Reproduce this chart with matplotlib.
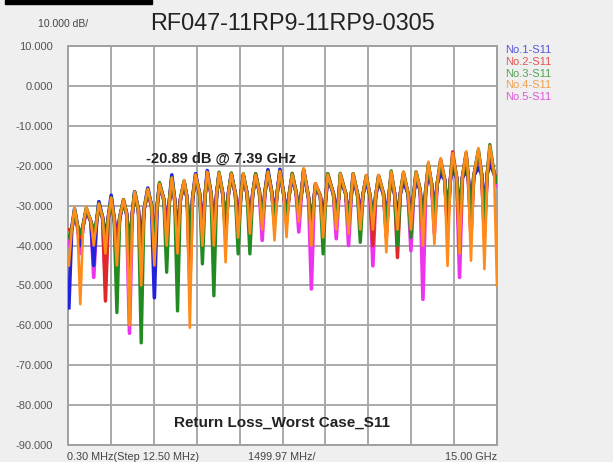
import numpy as np
import matplotlib
matplotlib.use("Agg")
import matplotlib.pyplot as plt
from matplotlib.patches import Rectangle

plt.rcParams['font.family'] = ['Liberation Sans', 'DejaVu Sans']

# frequencies (GHz) of the nulls and of the lobe peaks
null_ghz = [0.03, 0.43, 0.90, 1.31, 1.71, 2.15, 2.56, 3.02, 3.45, 3.83, 4.26, 4.70,
            5.10, 5.51, 5.95, 6.36, 6.79, 7.22, 7.64, 8.07, 8.51, 8.92, 9.38, 9.81,
            10.22, 10.66, 11.13, 11.52, 11.99, 12.41, 12.81, 13.27, 13.69, 14.09, 14.56, 15.00]
peak_ghz = [0.23, 0.64, 1.08, 1.51, 1.94, 2.33, 2.79, 3.20, 3.63, 4.06, 4.46, 4.87,
            5.28, 5.71, 6.13, 6.56, 6.99, 7.41, 7.84, 8.24, 8.65, 9.08, 9.52, 9.97,
            10.43, 10.86, 11.30, 11.73, 12.17, 12.60, 13.03, 13.45, 13.92, 14.35, 14.75]

# level (dB) where the lobes of all traces meet before each null dips
shoulder_db = [-36, -35, -34, -33, -33, -32, -31, -30, -28.5, -28.5, -28, -27,
               -27, -27, -27, -27, -26.5, -26.5, -27, -26.5, -28, -27.5, -27, -27,
               -27, -27.5, -27, -27, -27, -26, -24.5, -23.5, -23, -22.5, -22, -22]

# S11 (dB) at the peaks
s11_peak_1 = [-30.8, -31.0, -29.0, -27.4, -29.0, -26.5, -25.6, -24.5, -22.3, -24.2,
              -22.0, -21.2, -22.3, -22.0, -22.4, -22.5, -21.0, -20.9, -22.8, -21.3,
              -25.5, -23.0, -23.3, -23.5, -23.8, -24.0, -23.5, -24.0, -23.8, -22.5,
              -22.0, -20.8, -21.5, -20.5, -19.5]
s11_peak_2 = [-31.5, -31.0, -30.0, -28.5, -28.5, -27.0, -26.5, -24.8, -23.5, -24.0,
              -22.8, -21.8, -22.0, -22.5, -22.5, -22.0, -21.8, -21.5, -22.0, -21.0,
              -24.5, -22.0, -22.2, -22.0, -22.5, -22.5, -21.8, -22.0, -21.8, -19.8,
              -18.5, -16.5, -16.8, -16.5, -16.0]
s11_peak_3 = [-31.0, -30.5, -29.5, -28.0, -28.5, -26.5, -26.0, -24.2, -23.0, -23.8,
              -22.5, -21.8, -21.6, -21.8, -22.0, -22.0, -21.5, -21.5, -21.9, -21.0,
              -24.8, -22.0, -21.9, -22.0, -22.5, -22.5, -21.3, -21.6, -21.5, -19.5,
              -18.8, -17.5, -17.0, -16.0, -14.7]
s11_peak_4 = [-30.5, -30.3, -29.5, -28.0, -28.5, -26.5, -25.8, -24.5, -23.0, -23.6,
              -22.2, -21.5, -21.8, -22.0, -22.0, -22.3, -21.5, -21.3, -22.2, -20.6,
              -24.4, -22.2, -22.0, -22.0, -22.3, -22.3, -21.5, -21.5, -21.5, -19.0,
              -18.1, -16.8, -16.4, -15.6, -15.0]
s11_peak_5 = [-32.0, -31.5, -30.5, -29.0, -29.0, -27.5, -27.0, -25.0, -24.0, -24.5,
              -23.0, -22.5, -22.5, -22.5, -22.8, -22.8, -22.0, -22.0, -22.5, -21.5,
              -25.0, -22.5, -22.5, -22.5, -23.0, -23.0, -22.5, -22.5, -22.0, -20.5,
              -19.5, -18.0, -17.5, -17.0, -16.5]

# S11 (dB) at the nulls
s11_null_1 = [-55.6, -40, -45, -38, -38, -40, -40, -53.1, -35, -37, -38, -35,
              -35, -34, -34, -33, -33, -32, -32, -31, -34, -33, -32, -33,
              -32, -33, -33, -33, -33, -33, -31, -32, -32, -31, -31, -24]
s11_null_2 = [-36, -38, -38, -53.9, -40, -42, -42, -38, -36, -40, -50, -36,
              -37, -35, -35, -35, -34, -33, -34, -32, -36, -35, -34, -34,
              -34, -40, -38, -43, -35, -37, -34, -36, -40, -38, -38, -23]
s11_null_3 = [-38, -37, -36, -40, -56.8, -45, -64.4, -40, -46.7, -56.4, -40, -44.6,
              -52.6, -38, -42.1, -42.1, -34, -35, -33, -32, -37, -42.1, -34, -35,
              -39.2, -34, -35, -40, -38, -35, -33, -34, -34, -33, -33, -24]
s11_null_4 = [-45, -54.7, -40, -42, -45, -60, -50, -45, -40, -42, -60.6, -40,
              -40, -44.2, -38, -37, -36, -38.7, -37.9, -34, -40, -38, -36, -37,
              -36, -36, -41.7, -36, -36, -40, -39.6, -45.1, -42, -43.8, -45.9, -50]
s11_null_5 = [-40, -42, -48, -50, -41, -62, -41, -39, -37, -38, -39, -37,
              -38, -36, -36, -36, -38.7, -34, -33, -36.6, -50.9, -36, -38.3, -40,
              -35, -45.1, -36, -37, -41.3, -53.5, -37, -35, -48, -34, -35, -25]

labels = ['No.1-S11', 'No.2-S11', 'No.3-S11', 'No.4-S11', 'No.5-S11']
colors = ['#2222dd', '#e02828', '#218a21', '#ff8c1a', '#ee33ee']
text_colors = ['#5555dd', '#e05555', '#55a055', '#f0a050', '#e055e0']
widths = [2.6, 2.5, 2.4, 1.9, 2.6]

fmin, fmax = 0.0003, 15.0
dip = 0.1  # half width (GHz) of the dip around each null


def build_trace(nulls, peaks):
    xs, ys = [], []
    for i in range(len(null_ghz)):
        sh = max(shoulder_db[i], nulls[i])
        if i > 0:
            xs.append(null_ghz[i] - dip)
            ys.append(sh)
        xs.append(max(null_ghz[i], fmin))
        ys.append(nulls[i])
        if i < len(peaks):
            xs += [null_ghz[i] + dip, peak_ghz[i]]
            ys += [sh, peaks[i]]
    return xs, ys


traces = [build_trace(s11_null_1, s11_peak_1), build_trace(s11_null_2, s11_peak_2),
          build_trace(s11_null_3, s11_peak_3), build_trace(s11_null_4, s11_peak_4),
          build_trace(s11_null_5, s11_peak_5)]

fig = plt.figure(figsize=(6.13, 4.62), dpi=100, facecolor='#efefef')
ax = fig.add_axes([68 / 613, (462 - 445) / 462, 429 / 613, 399 / 462])
ax.set_facecolor('white')

ax.set_xlim(fmin, fmax)
ax.set_ylim(-90, 10)
ax.set_xticks(np.linspace(fmin, fmax, 11))
ax.set_xticklabels([])
ax.set_yticks(range(-90, 11, 10))
ax.set_yticklabels(['%.3f' % v for v in range(-90, 11, 10)], fontsize=8, color='#555555')
ax.tick_params(length=0, pad=11)
ax.grid(True, color='#a9a9a9', linewidth=1.4)
for s in ax.spines.values():
    s.set_color('#a0a0a0')
    s.set_linewidth(1.4)

# draw order: magenta at the back, orange in front
for z, i in enumerate([4, 0, 1, 2, 3]):
    xs, ys = traces[i]
    ax.plot(xs, ys, color=colors[i], linewidth=widths[i], zorder=3 + z)

ax.text(2.72, -18.2, '-20.89 dB @ 7.39 GHz', fontsize=10.5, fontweight='bold',
        color='#222222', va='center', ha='left', zorder=10)
ax.text(7.5, -84.5, 'Return Loss_Worst Case_S11', fontsize=11, fontweight='bold',
        color='#222222', va='center', ha='center', zorder=10)

# header
fig.add_artist(Rectangle((5 / 613, 458 / 462), 147 / 613, 4 / 462,
                         transform=fig.transFigure, color='black'))
fig.text(292 / 613, 1 - 24 / 462, 'RF047-11RP9-11RP9-0305', fontsize=16.8,
         ha='center', va='center', color='#222222')
fig.text(38 / 613, 1 - 24 / 462, '10.000 dB/', fontsize=7.5, ha='left',
         va='center', color='#444444')

# legend as coloured text
for i, lab in enumerate(labels):
    fig.text(505 / 613, 1 - (50 + i * 11.8) / 462, lab, fontsize=8,
             color=text_colors[i], ha='left', va='center')

# footer
fig.text(67 / 613, 1 - 457 / 462, '0.30 MHz(Step 12.50 MHz)', fontsize=7.8,
         ha='left', va='center', color='#444444')
fig.text(248 / 613, 1 - 457 / 462, '1499.97 MHz/', fontsize=7.8,
         ha='left', va='center', color='#444444')
fig.text(497 / 613, 1 - 457 / 462, '15.00 GHz', fontsize=7.8,
         ha='right', va='center', color='#444444')

fig.savefig('out.png', dpi=100, facecolor=fig.get_facecolor())
